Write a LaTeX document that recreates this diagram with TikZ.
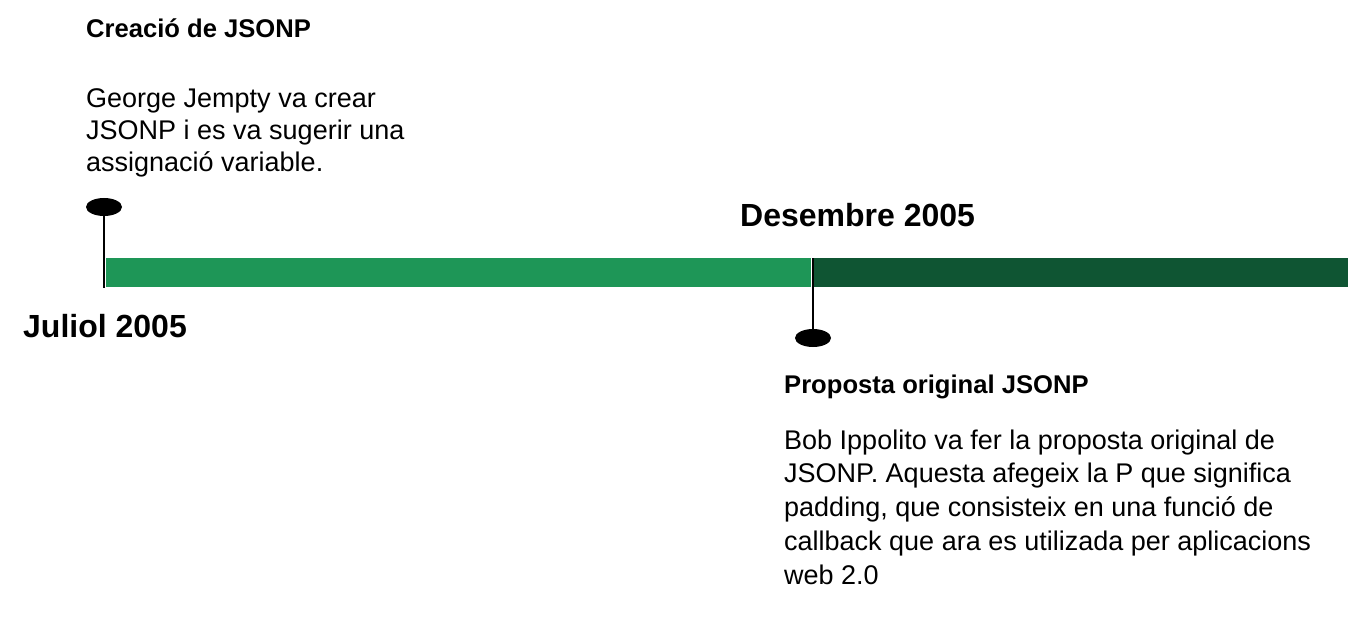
\documentclass[tikz,border=0pt]{standalone}
\usepackage{fontspec}
\setmainfont{Liberation Sans}
\usetikzlibrary{shapes.geometric}
\definecolor{lightbar}{HTML}{1E9657}
\definecolor{darkbar}{HTML}{0F5533}
\begin{document}
\begin{tikzpicture}[x=1pt,y=-1pt,
  head/.style={anchor=base west,inner sep=0pt,font=\bfseries\fontsize{25.6}{30}\selectfont},
  datelbl/.style={anchor=base west,inner sep=0pt,font=\bfseries\fontsize{32}{36}\selectfont},
  bodyA/.style={anchor=base west,inner sep=0pt,align=left,font=\fontsize{27}{32}\selectfont},
  bodyB/.style={anchor=base west,inner sep=0pt,align=left,font=\fontsize{27}{33.7}\selectfont},
  pinhead/.style={ellipse,fill=black,minimum width=36pt,minimum height=18pt,inner sep=0pt},
  pinline/.style={line width=2pt}]
\useasboundingbox (0,0) rectangle (1348,620);
\fill[lightbar] (106,258) rectangle (811,287);
\fill[darkbar] (812,258) rectangle (1348,287);
\coordinate (b1) at (104,288);
\coordinate (t2) at (813,258);
\node[pinhead] (p1) at (104,207) {};
\node[pinhead] (p2) at (813,338) {};
\draw[pinline] (p1.center) -- (b1);
\draw[pinline] (t2) -- (p2.center);
\node[head] (h1) at (86,38) {Creació de JSONP};
% anchor = baseline of the last line
\node[bodyA] (t1) at (86,172) {George Jempty va crear\\JSONP i es va sugerir una\\assignació variable.};
\node[datelbl] (d2) at (740,227) {Desembre 2005};
\node[datelbl] (d1) at (23,337) {Juliol 2005};
\node[head] (h2) at (784,393) {Proposta original JSONP};
\node[bodyB] (tb2) at (784,584) {Bob Ippolito va fer la proposta original de\\JSONP. Aquesta afegeix la P que significa\\padding, que consisteix en una funció de\\callback que ara es utilizada per aplicacions\\web 2.0};
\end{tikzpicture}
\end{document}
